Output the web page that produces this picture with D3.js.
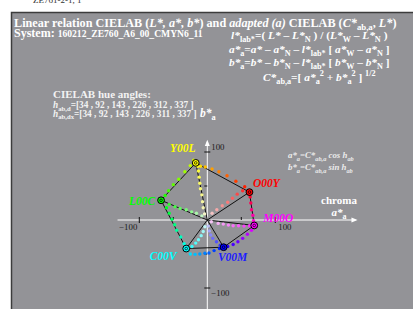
<!DOCTYPE html>
<html>
<head>
<meta charset="utf-8">
<script src="https://cdn.jsdelivr.net/npm/d3@7"></script>
<style>
  body { margin: 0; background: #fff; }
  svg { display: block; font-family: "Liberation Serif", "Times New Roman", serif; }
</style>
</head>
<body>
<svg id="chart" width="413" height="309"></svg>
<script>
// hexagon corners (adapted CIELAB a*, b*)
const vertexNames = ["Y00L", "O00Y", "M00O", "V00M", "C00V", "L00C"];
const vertexColors = ["#ffff00", "#ff0000", "#ff00ff", "#0000ff", "#00ffff", "#00ff00"];
const vertexA = [-17, 62, 69, 24, -31, -68];
const vertexB = [84, 41, -8, -40, -42, 29];

// outer steps, from corner i to corner i+1
const outerYO = [[-10, 79], [-3, 78], [7, 75], [17, 71], [29, 65], [42, 57], [55, 49]];
const outerOM = [[63, 34], [64, 25], [65, 15], [67, 7], [68, -1]];
const outerMV = [[65, -15], [59, -21], [52, -27], [45, -32], [38, -36], [30, -39]];
const outerVC = [[18, -42], [10, -45], [2.5, -48.5], [-3.5, -49], [-11, -50], [-18, -50.5], [-25, -50]];
const outerCL = [[-34, -35], [-39, -25], [-45, -15], [-48, -7], [-52, 1], [-56, 10], [-60, 18]];
const outerLY = [[-62, 36], [-57, 43], [-50, 52], [-42, 60], [-33, 71], [-25, 80], [-20, 88]];

// inner steps, from grey centre to corner i
const innerY = [[-4, 9], [-6, 18], [-7, 27], [-8, 37], [-10, 46], [-11, 54], [-12, 63], [-13, 72], [-14, 79]];
const innerO = [[7, 10], [14, 15], [22, 21], [30, 26], [37, 32], [44, 38], [52, 43]];
const innerM = [[6, -2.5], [16, -5], [23.5, -6], [31, -7.5], [38, -8.5], [46, -8.5], [54, -9], [62, -8.5]];
const innerV = [[1.5, -9], [3, -16], [5, -22], [8, -27], [13.5, -32], [19, -37]];
const innerC = [[-3.5, -10], [-6, -17], [-9, -23], [-13, -29], [-17, -34], [-22.5, -39]];
const innerL = [[-8, 6], [-16, 10], [-23, 12], [-31, 15], [-40, 17], [-47.5, 19.5], [-56, 23]];

const hueD = [34, 92, 143, 226, 312, 337];
const hueDx = [34, 92, 143, 226, 311, 337];
const axisTicks = [-100, -50, 50, 100];
const tickLabels = [-100, 100];

const outerArcs = [outerYO, outerOM, outerMV, outerVC, outerCL, outerLY];
const innerArcs = [innerY, innerO, innerM, innerV, innerC, innerL];

const svg = d3.select("#chart");

const x = d3.scaleLinear().domain([-100, 100]).range([139.3, 275.3]);
const y = d3.scaleLinear().domain([-100, 100]).range([288, 152]);

// header above the frame, mostly cut off by the page edge
svg.append("text")
    .attr("x", 33).attr("y", 2.5)
    .attr("font-size", 9).attr("fill", "#333")
    .text("ZE761-2-1, 1");

// grey frame
svg.append("rect")
    .attr("x", 11.5).attr("y", 12.5)
    .attr("width", 420).attr("height", 320)
    .attr("fill", "#939397")
    .attr("stroke", "#3c3c3c")
    .attr("stroke-width", 1.5);

/**
 * Writes a line of text made of parts. Each part is [text, kind] where kind may
 * hold "i" (italic), "s" (subscript) or "p" (superscript).
 */
function rich(x0, y0, parts, size, opts) {
    opts = opts || {};
    const t = svg.append("text")
        .attr("x", x0).attr("y", y0)
        .attr("font-size", size)
        .attr("font-weight", "bold")
        .attr("fill", opts.fill || "#fff")
        .attr("text-anchor", opts.anchor || "start");
    let shift = 0;
    parts.forEach(([s, kind]) => {
        let target = 0;
        if (kind.includes("s")) target = size * 0.3;
        if (kind.includes("p")) target = -size * 0.38;
        const ts = t.append("tspan").attr("dy", target - shift).text(s);
        shift = target;
        if (target !== 0) ts.attr("font-size", size * 0.72);
        if (kind.includes("i")) ts.attr("font-style", "italic");
    });
    return t;
}

// title
rich(14, 26.5, [["Linear relation CIELAB (", ""], ["L*, a*, b*", "i"], [") and ", ""],
    ["adapted (a)", "i"], [" CIELAB (", ""], ["C*", "i"], ["ab,a", "s"], [", ", ""], ["L*", "i"], [")", ""]], 12.2);
rich(14, 36.5, [["System: ", ""]], 12).append("tspan")
    .attr("font-size", 9.6).text("160212_ZE760_A6_00_CMYN6_11");

// formulas on the right
rich(231, 39, [["l*", "i"], ["lab*", "s"], ["=( ", ""], ["L*", "i"], [" \u2013 ", ""], ["L*", "i"], ["N", "s"],
    [" ) / (", ""], ["L*", "i"], ["W", "s"], [" \u2013 ", ""], ["L*", "i"], ["N", "s"], [" )", ""]], 11.4);
rich(229, 52.5, [["a*", "i"], ["a", "s"], ["=", ""], ["a*", "i"], [" \u2013 ", ""], ["a*", "i"], ["N", "s"],
    [" \u2013 ", ""], ["l*", "i"], ["lab*", "s"], [" [ ", ""], ["a*", "i"], ["W", "s"], [" \u2013 ", ""],
    ["a*", "i"], ["N", "s"], [" ]", ""]], 11.3);
rich(229, 66, [["b*", "i"], ["a", "s"], ["=", ""], ["b*", "i"], [" \u2013 ", ""], ["b*", "i"], ["N", "s"],
    [" \u2013 ", ""], ["l*", "i"], ["lab*", "s"], [" [ ", ""], ["b*", "i"], ["W", "s"], [" \u2013 ", ""],
    ["b*", "i"], ["N", "s"], [" ]", ""]], 11.3);
rich(263, 80.5, [["C*", "i"], ["ab,a", "s"], ["=[ ", ""], ["a*", "i"], ["a", "s"], ["2", "p"], [" + ", ""],
    ["b*", "i"], ["a", "s"], ["2", "p"], [" ] ", ""], ["1/2", "p"]], 11.4);

// hue angle block
rich(53, 98, [["CIELAB hue angles:", ""]], 11, {fill: "#f2f2f2"});
rich(53, 108, [["h", "i"], ["ab,d", "s"], ["=[" + hueD.join(" , ") + " ]", ""]], 9.3, {fill: "#f2f2f2"});
rich(53, 116.5, [["h", "i"], ["ab,dx", "s"], ["=[" + hueDx.join(" , ") + " ]", ""]], 9.3, {fill: "#f2f2f2"});
rich(200, 117, [["b*", "i"], ["a", "s"]], 11.5);

rich(288, 158, [["a*", "i"], ["a", "s"], ["=", ""], ["C*", "i"], ["ab,a", "s"], [" cos h", "i"], ["ab", "s"]], 8.8, {fill: "#ececec"})
    .attr("font-style", "italic");
rich(288, 170, [["b*", "i"], ["a", "s"], ["=", ""], ["C*", "i"], ["ab,a", "s"], [" sin h", "i"], ["ab", "s"]], 8.8, {fill: "#ececec"})
    .attr("font-style", "italic");

rich(339, 204, [["chroma", ""]], 11, {anchor: "middle"});
rich(339, 216, [["a*", "i"], ["a", "s"]], 11, {anchor: "middle"});

// axes
svg.append("line")
    .attr("x1", x(-132)).attr("x2", x(218))
    .attr("y1", y(0)).attr("y2", y(0))
    .attr("stroke", "#fff").attr("stroke-width", 1);
svg.append("path")
    .attr("d", `M${x(221)},${y(0)}L${x(212)},${y(0) - 2.5}L${x(212)},${y(0) + 2.5}Z`)
    .attr("fill", "#fff");
svg.append("line")
    .attr("x1", x(0)).attr("x2", x(0))
    .attr("y1", y(-135)).attr("y2", y(115))
    .attr("stroke", "#fff").attr("stroke-width", 1);
svg.append("path")
    .attr("d", `M${x(0)},${y(118)}L${x(0) - 2.5},${y(109)}L${x(0) + 2.5},${y(109)}Z`)
    .attr("fill", "#fff");

svg.selectAll(".xtick")
    .data(axisTicks)
    .enter().append("line")
    .classed("xtick", true)
    .attr("x1", d => x(d)).attr("x2", d => x(d))
    .attr("y1", d => y(0) - 3)
    .attr("y2", d => Math.abs(d) === 100 ? y(0) + 3 : y(0))
    .attr("stroke", "#111");
svg.selectAll(".ytick")
    .data(axisTicks)
    .enter().append("line")
    .classed("ytick", true)
    .attr("y1", d => y(d)).attr("y2", d => y(d))
    .attr("x1", d => x(0) - 3)
    .attr("x2", d => Math.abs(d) === 100 ? x(0) + 3 : x(0))
    .attr("stroke", "#111");

svg.selectAll(".xlab")
    .data(tickLabels)
    .enter().append("text")
    .classed("xlab", true)
    .attr("x", d => d < 0 ? x(d) - 2 : x(d) + 3)
    .attr("y", y(0) + 10)
    .attr("text-anchor", d => d < 0 ? "end" : "start")
    .attr("font-size", 8.8).attr("fill", "#1a1a1a")
    .text(d => d < 0 ? "\u2212" + Math.abs(d) : d);
svg.selectAll(".ylab")
    .data(tickLabels)
    .enter().append("text")
    .classed("ylab", true)
    .attr("x", x(0) + 4)
    .attr("y", d => d < 0 ? y(d) + 7.5 : y(d) - 2)
    .attr("font-size", 8.8).attr("fill", "#1a1a1a")
    .text(d => d < 0 ? "\u2212" + Math.abs(d) : d);

// spokes and hexagon
const corners = vertexNames.map((n, i) => ({name: n, color: vertexColors[i], a: vertexA[i], b: vertexB[i]}));
svg.selectAll(".spoke")
    .data(corners)
    .enter().append("line")
    .classed("spoke", true)
    .attr("x1", x(0)).attr("y1", y(0))
    .attr("x2", d => x(d.a)).attr("y2", d => y(d.b))
    .attr("stroke", "#000").attr("stroke-width", 0.9);
svg.append("path")
    .attr("d", d3.line().x(d => x(d.a)).y(d => y(d.b))(corners) + "Z")
    .attr("fill", "none")
    .attr("stroke", "#000").attr("stroke-width", 0.9);

// coloured steps
const dots = [];
outerArcs.forEach((arc, i) => {
    const mix = d3.interpolateRgb(vertexColors[i], vertexColors[(i + 1) % 6]);
    arc.forEach((p, j) => dots.push({a: p[0], b: p[1], color: mix((j + 1) / (arc.length + 1))}));
});
innerArcs.forEach((arc, i) => {
    const mix = d3.interpolateRgb("#f2f2f2", vertexColors[i]);
    arc.forEach((p, j) => dots.push({a: p[0], b: p[1], color: mix(0.1 + 0.8 * (j + 1) / (arc.length + 1))}));
});
svg.selectAll(".step")
    .data(dots)
    .enter().append("circle")
    .classed("step", true)
    .attr("cx", d => x(d.a)).attr("cy", d => y(d.b))
    .attr("r", 1.7)
    .attr("fill", d => d.color);

// corner markers
svg.selectAll(".corner")
    .data(corners)
    .enter().append("circle")
    .classed("corner", true)
    .attr("cx", d => x(d.a)).attr("cy", d => y(d.b))
    .attr("r", 3.4)
    .attr("fill", d => d.color)
    .attr("stroke", "#000").attr("stroke-width", 1);
svg.selectAll(".cornerIn")
    .data(corners)
    .enter().append("circle")
    .classed("cornerIn", true)
    .attr("cx", d => x(d.a)).attr("cy", d => y(d.b))
    .attr("r", 1.3)
    .attr("fill", "none")
    .attr("stroke", "#000").attr("stroke-width", 0.7);

// corner labels, offset in pixels from the marker
const labelShift = {Y00L: [-13, -11], O00Y: [17, -5.5], M00O: [24, -3.5], V00M: [9, 14], C00V: [-23, 11.5], L00C: [-19, 4.5]};
svg.selectAll(".cornerLabel")
    .data(corners)
    .enter().append("text")
    .classed("cornerLabel", true)
    .attr("x", d => x(d.a) + labelShift[d.name][0])
    .attr("y", d => y(d.b) + labelShift[d.name][1])
    .attr("text-anchor", "middle")
    .attr("font-size", 11.5)
    .attr("font-weight", "bold")
    .attr("font-style", "italic")
    .attr("fill", d => d.name === "V00M" ? "#1c1cff" : d.color)
    .text(d => d.name);
</script>
</body>
</html>
